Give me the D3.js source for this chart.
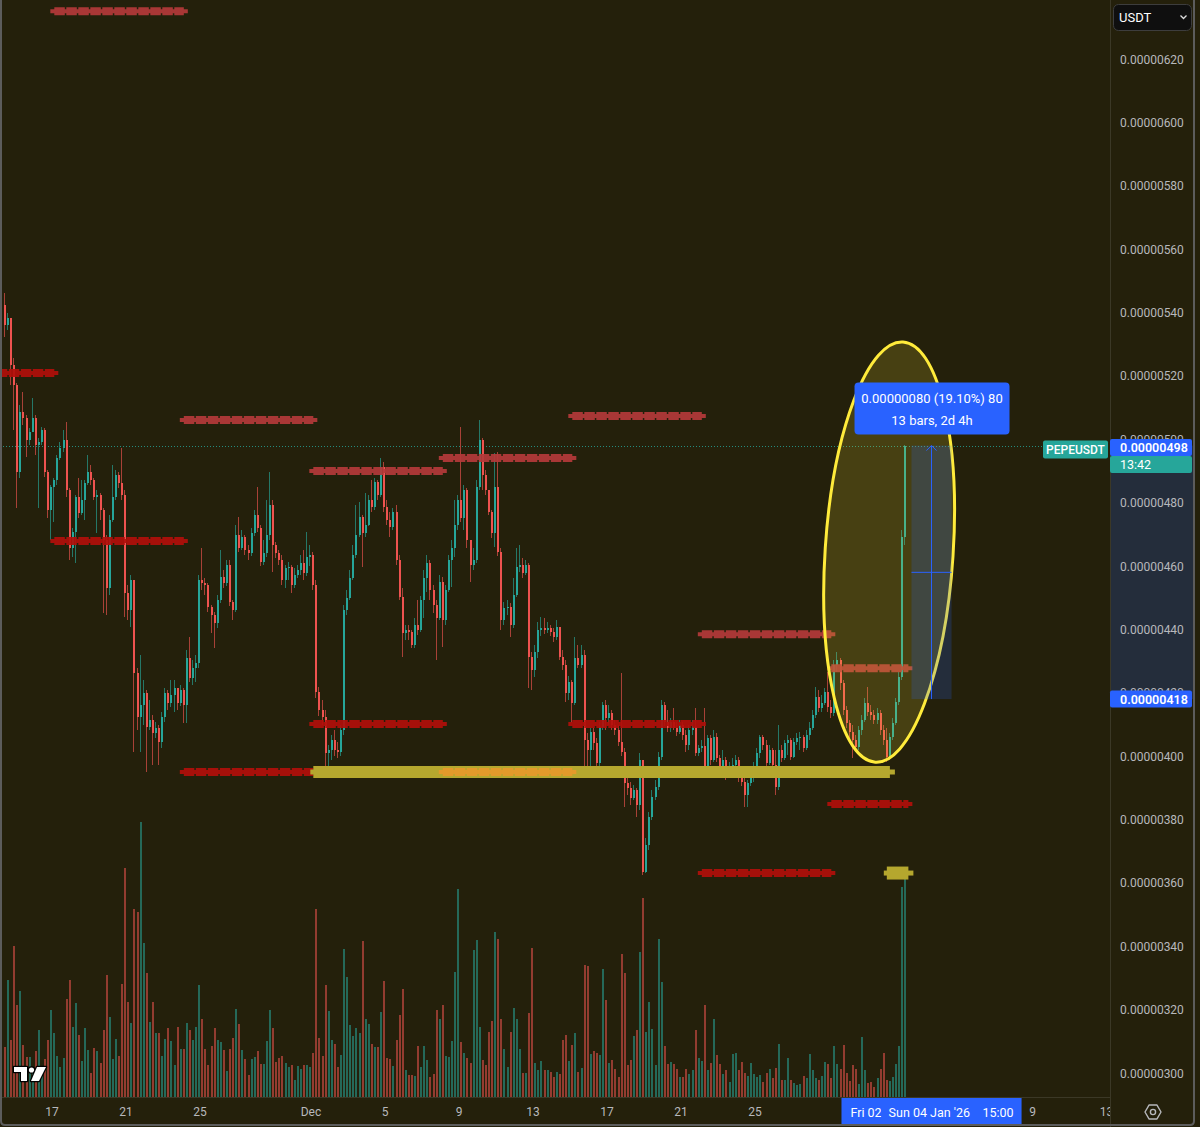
<!DOCTYPE html>
<html><head><meta charset="utf-8">
<script src="https://cdn.jsdelivr.net/npm/d3@7"></script>
<style>
html,body{margin:0;padding:0;background:#24200b;overflow:hidden;}
svg{display:block;font-family:Roboto,"Noto Sans",sans-serif;}
</style></head><body>
<svg id="c" width="1200" height="1127"></svg>
<script>
// ---------------- DATA (prices in units of 1e-8 USDT) ----------------
const symbol = "PEPEUSDT";
const quote = "USDT";
const startTime = "2025-11-14T11:00:00Z"; // first 4h bar
const barHours = 4;
const open0 = 542.3;
const closes = [
536.0,538.2,523.4,517.1,489.6,508.6,506.7,499.7,502.2,506.7,
498.2,499.1,502.9,489.6,477.6,484.9,487.1,494.0,497.2,499.7,
483.9,465.7,470.7,481.7,476.7,480.8,486.1,489.6,487.1,481.7,
482.4,477.6,468.2,453.0,474.5,481.7,488.7,486.1,482.4,451.5,
446.1,455.5,426.2,412.3,416.1,419.9,409.1,411.4,407.3,408.8,
404.4,412.3,419.9,416.7,419.3,421.5,416.7,420.8,416.1,430.9,
424.6,427.8,429.3,455.5,454.6,454.0,447.1,444.5,442.0,449.2,
456.5,454.6,460.3,448.6,446.1,469.7,465.7,469.1,465.0,464.1,
470.4,476.1,471.9,461.3,464.1,469.7,479.2,466.6,464.1,461.9,
455.5,459.4,459.7,454.0,457.1,458.7,460.9,457.7,462.8,463.5,
454.0,420.2,414.5,412.3,401.0,401.9,405.0,401.9,401.3,408.2,
446.1,449.9,456.2,463.5,469.7,475.4,470.4,472.9,480.8,478.6,
486.4,482.4,491.2,478.6,474.5,472.3,477.0,461.9,450.2,438.9,
439.8,439.2,435.1,441.4,439.8,449.2,456.2,460.9,452.4,447.7,
443.6,454.9,443.0,452.4,461.9,465.7,472.9,480.8,475.1,483.9,
468.2,460.3,461.9,484.9,499.7,488.7,483.9,477.0,470.4,484.9,
464.4,443.0,446.8,447.1,441.4,450.8,459.7,460.3,457.7,460.3,
431.2,427.1,432.8,439.8,440.4,439.8,440.4,439.2,437.6,440.8,
431.2,428.7,419.9,423.4,416.7,430.9,428.7,431.9,405.0,401.9,
407.6,404.1,397.8,409.1,416.1,412.0,413.6,409.8,408.2,404.4,
401.3,391.5,389.9,386.8,389.3,384.6,398.8,363.4,371.9,380.8,
387.1,390.3,399.7,416.1,410.7,408.8,410.7,408.8,407.6,409.8,
406.6,403.5,408.2,409.1,401.0,402.5,403.2,396.6,405.7,398.8,
406.0,399.4,396.3,398.8,394.7,396.6,397.2,398.8,393.1,391.8,
387.7,391.5,394.0,396.6,401.0,406.0,403.5,397.8,401.9,397.2,
390.3,401.9,399.4,404.1,405.0,399.7,404.4,405.7,406.0,402.5,
406.6,408.8,412.9,418.6,415.1,416.7,420.2,415.5,413.6,428.7,
430.3,423.0,414.5,410.4,407.6,405.0,402.9,408.2,411.4,416.7,
413.9,412.9,411.4,413.6,408.2,405.0,399.7,406.0,410.4,417.1,
424.9,469.1,498.0];
const highs = [
546.1,539.8,538.2,525.6,517.7,510.8,514.9,507.6,503.5,513.0,
507.6,500.3,503.8,503.5,490.3,485.5,487.7,495.0,499.1,502.9,
505.4,484.6,471.9,482.4,487.7,487.1,487.1,495.0,491.8,487.7,
483.9,483.0,478.3,469.7,476.1,491.8,490.3,489.6,497.2,483.9,
454.0,457.1,455.5,427.8,431.9,424.0,420.8,417.7,412.9,410.7,
409.8,413.9,421.5,420.8,424.0,424.0,421.5,422.4,421.5,433.5,
437.6,430.3,431.9,457.1,465.7,456.2,454.6,447.7,445.5,450.8,
465.0,458.7,461.9,461.9,449.2,472.9,475.4,471.3,469.7,466.6,
471.9,477.6,484.9,472.9,468.2,480.8,489.6,480.8,467.5,465.0,
463.5,460.3,461.3,460.3,459.4,460.3,463.5,465.0,470.7,466.6,
464.4,455.5,421.8,417.7,414.5,403.5,406.6,408.2,404.4,409.8,
447.7,452.4,458.7,466.6,479.2,480.2,476.1,483.0,482.4,487.1,
487.7,487.1,494.0,492.8,480.8,477.0,478.3,479.2,463.5,453.0,
441.4,441.4,439.8,443.6,449.2,450.5,458.7,463.5,461.9,454.0,
449.2,457.1,456.5,454.0,463.5,468.2,480.8,482.4,503.8,485.5,
484.6,468.2,465.7,487.1,506.1,500.3,490.3,483.9,477.6,495.6,
495.9,465.7,448.6,449.2,448.3,456.2,465.7,466.6,462.5,461.9,
461.0,432.8,435.1,442.3,443.9,443.6,442.3,441.4,440.4,443.0,
439.8,433.5,430.3,425.3,424.0,437.6,435.1,435.1,433.5,407.3,
408.8,408.8,405.7,410.7,417.1,417.7,416.1,414.5,411.4,409.8,
426.2,402.5,394.0,391.8,390.8,389.9,401.0,398.8,374.1,382.3,
389.3,392.5,401.3,417.7,417.1,414.5,412.0,415.1,410.7,411.4,
410.7,408.2,409.8,411.4,415.1,403.5,405.0,415.1,406.6,406.6,
408.2,407.3,400.3,401.9,399.7,398.1,399.4,400.3,399.7,395.6,
393.1,392.5,395.6,398.1,402.5,406.6,406.6,405.0,403.5,402.5,
401.9,409.8,403.5,405.0,406.6,405.7,405.7,407.3,407.6,406.6,
408.2,410.7,414.5,421.8,420.8,419.3,421.5,426.5,417.7,430.3,
432.8,430.9,424.0,415.8,411.4,409.8,406.6,409.5,412.9,418.3,
421.8,416.1,414.5,415.1,414.5,409.8,408.8,407.3,412.0,418.3,
426.5,471.3,498.2];
const lows = [
532.2,534.4,517.1,502.9,478.3,487.7,504.5,494.3,498.2,502.2,
495.0,478.3,498.2,488.0,475.1,468.2,473.8,485.5,493.4,495.9,
481.7,461.9,462.8,460.9,475.1,476.1,474.5,485.5,485.5,480.8,
470.4,474.5,445.2,444.5,450.8,473.8,480.8,484.6,480.8,443.9,
443.0,440.8,401.3,408.2,401.3,409.8,395.0,408.2,397.2,405.7,
397.2,402.5,410.7,414.5,415.5,413.9,414.5,415.8,410.4,410.4,
423.4,422.4,423.4,427.8,452.4,450.8,445.5,438.9,434.1,440.4,
448.3,453.0,453.7,447.4,443.0,445.5,464.4,465.0,463.5,461.9,
463.1,469.4,470.7,460.0,460.3,462.8,468.2,458.1,462.5,460.3,
454.0,453.0,455.5,451.5,453.0,456.2,457.1,455.5,456.8,460.0,
452.4,418.3,412.6,409.8,395.6,395.0,398.8,400.0,399.4,400.0,
406.6,444.5,449.2,455.5,462.5,469.1,459.7,469.1,472.6,477.0,
477.6,480.8,481.7,477.0,472.9,469.1,471.3,460.3,449.2,431.2,
436.6,436.6,434.1,434.1,438.2,439.2,443.6,451.8,449.2,445.2,
430.3,443.0,434.4,441.4,451.8,453.4,462.8,471.3,473.8,471.3,
465.7,454.9,458.7,460.9,483.9,483.9,482.4,476.1,468.8,466.0,
463.1,439.8,441.4,444.5,437.6,440.4,450.2,458.1,456.2,457.1,
421.5,420.8,424.9,430.9,437.9,438.6,438.9,437.9,436.0,436.6,
430.3,427.1,417.1,417.7,410.4,416.1,427.8,427.8,393.4,393.4,
396.3,401.9,394.0,396.3,408.2,408.2,409.8,408.2,406.6,403.2,
400.0,383.9,387.7,384.6,386.1,380.8,383.0,362.4,363.0,370.3,
379.8,386.1,389.3,398.8,409.5,407.6,407.6,408.2,406.3,406.9,
405.0,401.3,401.9,406.6,400.0,400.0,401.3,395.6,395.6,397.2,
398.1,398.1,395.0,395.6,392.5,393.7,394.0,395.0,391.8,390.6,
383.9,383.9,390.6,391.8,395.0,399.4,401.9,396.9,397.2,396.3,
387.7,389.3,398.1,398.8,400.3,398.8,399.4,403.5,401.9,401.3,
401.9,405.0,408.2,412.0,413.9,413.9,416.1,413.9,412.0,412.6,
426.5,420.8,412.9,408.8,405.0,399.4,401.3,401.9,406.6,410.7,
412.6,411.4,410.1,410.1,406.6,403.5,398.1,398.8,405.0,409.8,
416.1,424.0,466.6];
// volume, billions of PEPE per 4h bar
const volumes = [
50,117,57,151,92,106,52,40,40,30,
46,67,23,38,57,87,64,41,30,39,
98,117,70,94,62,36,69,47,24,49,
46,34,67,122,80,38,58,41,113,229,
95,74,188,185,275,154,124,75,95,64,
64,41,58,69,56,32,70,48,48,74,
67,57,70,112,78,48,32,51,69,57,
55,47,26,48,59,88,73,47,38,22,
38,40,46,33,33,56,87,69,35,39,
41,34,30,32,17,31,28,32,32,30,
44,188,59,41,112,86,57,53,30,42,
148,120,72,61,69,64,156,78,73,53,
50,50,85,116,39,38,31,57,82,108,
27,22,22,21,51,30,51,37,20,23,
87,78,92,41,40,56,125,208,55,44,
39,34,147,157,70,37,32,65,76,165,
158,78,48,30,65,89,78,48,24,24,
84,149,34,27,36,27,27,25,20,25,
23,57,62,36,52,64,25,29,132,131,
43,46,44,42,128,97,34,37,28,20,
143,124,32,37,61,67,145,199,65,95,
68,32,158,115,51,33,35,33,28,20,
20,28,23,27,67,39,36,92,27,34,
78,42,33,23,27,15,43,44,27,35,
24,21,34,23,20,22,15,24,28,19,
29,53,17,17,39,17,14,12,13,21,
19,43,27,19,17,21,35,33,19,51,
33,28,52,24,16,32,28,13,60,27,
14,15,10,19,28,44,17,16,20,33,
51,210,220];
const priceTicks = [300,320,340,360,380,400,420,440,460,480,500,520,540,560,580,600,620];
const timeTicks = [
 ["2025-11-17","17"],["2025-11-21","21"],["2025-11-25","25"],["2025-12-01","Dec"],
 ["2025-12-05","5"],["2025-12-09","9"],["2025-12-13","13"],["2025-12-17","17"],
 ["2025-12-21","21"],["2025-12-25","25"],["2026-01-09","9"],["2026-01-13","13"]];
// weekly high levels [from, to, price]
const weekHighs = [
 ["2025-11-17T03:00","2025-11-24T03:00",635.1],
 ["2025-11-24T03:00","2025-12-01T03:00",506.1],
 ["2025-12-01T03:00","2025-12-08T03:00",490.0],
 ["2025-12-08T03:00","2025-12-15T03:00",494.1],
 ["2025-12-15T03:00","2025-12-22T03:00",507.3],
 ["2025-12-22T03:00","2025-12-29T03:00",438.5],
 ["2025-12-29T03:00","2026-01-02T07:00",427.7]];
// weekly low levels [from, to, price]
const weekLows = [
 ["2025-11-10T03:00","2025-11-17T03:00",520.9],
 ["2025-11-17T03:00","2025-11-24T03:00",467.9],
 ["2025-11-24T03:00","2025-12-01T03:00",395.0],
 ["2025-12-01T03:00","2025-12-08T03:00",410.1],
 ["2025-12-15T03:00","2025-12-22T03:00",410.1],
 ["2025-12-22T03:00","2025-12-29T03:00",363.1],
 ["2025-12-29T03:00","2026-01-02T07:00",384.9]];
const touchedLow = ["2025-12-08T03:00","2025-12-15T03:00",395.0];
const supportZone = ["2025-12-01T03:00","2026-01-01T07:00",395.0];
const supportBlock = ["2026-01-01T03:00","2026-01-02T07:00",363.1];
// highlight ellipse: top point, bottom point (date, price)
const ellipseTop = ["2026-01-02T00:00",530.7];
const ellipseBottom = ["2025-12-31T12:00",398.1];
// measurement
const measure = {from:"2026-01-02T11:00", to:"2026-01-04T15:00", low:418.0, high:498.0, pct:"19.10%", bars:13, span:"2d 4h"};
const startLabel = ["Fri 02 Jan '26","2026-01-02T11:00"];
const endLabel = ["Sun 04 Jan '26","15:00","2026-01-04T15:00"];
const countdown = "13:42";

// ---------------- CHART ----------------
const W=1200,H=1127, plotR=1110, plotB=1097;
const UP="#26a69a", DN="#ef5350", BG="#24200b", TXT="#b7b8bc", BLUE="#2962ff";
const svg=d3.select("#c");
const dt=s=>new Date(s.length<=10? s+"T00:00:00Z" : s+(s.length===16?":00Z":""));
const X=d3.scaleUtc().domain([dt("2025-11-17"),dt("2026-01-09")]).range([52,1032.5]);
const Y=d3.scaleLinear().domain([300,620]).range([1073,59]);
const V=d3.scaleLinear().domain([0,275]).range([plotB,822]);
const fmt=v=>(v*1e-8).toFixed(8);
const T0=Date.parse(startTime), barMs=barHours*3600e3;
const bars=closes.map((c,i)=>{const o=i===0?open0:closes[i-1];
  return {t:new Date(T0+i*barMs),o,c,h:Math.max(highs[i],o,c),l:Math.min(lows[i],o,c),v:volumes[i],up:c>=o};});

svg.append("rect").attr("width",W).attr("height",H).attr("fill",BG);
svg.append("clipPath").attr("id","pc").append("rect").attr("x",2).attr("y",0).attr("width",plotR-2).attr("height",plotB);
const P=svg.append("g").attr("clip-path","url(#pc)");

// volume
P.append("g").attr("shape-rendering","crispEdges").selectAll("rect").data(bars).join("rect")
 .attr("x",d=>Math.round(X(d.t))-1).attr("width",2)
 .attr("y",d=>V(d.v)).attr("height",d=>V(0)-V(d.v))
 .attr("fill",d=>d.up?UP:DN).attr("opacity",0.55);

// last price dotted line
const last=bars[bars.length-1], yLast=Y(last.c);
P.append("line").attr("x1",0).attr("x2",plotR).attr("y1",Math.round(yLast)+0.5).attr("y2",Math.round(yLast)+0.5)
 .attr("stroke",UP).attr("stroke-dasharray","1,2").attr("opacity",0.8);

// candles
const cg=P.append("g").attr("shape-rendering","crispEdges");
cg.selectAll("rect.w").data(bars).join("rect").attr("class","w")
 .attr("x",d=>Math.round(X(d.t))-1).attr("width",1)
 .attr("y",d=>Y(d.h)).attr("height",d=>Math.max(1,Y(d.l)-Y(d.h)))
 .attr("fill",d=>d.up?UP:DN).attr("opacity",0.65);
cg.selectAll("rect.b").data(bars).join("rect").attr("class","b")
 .attr("x",d=>Math.round(X(d.t))-1).attr("width",2)
 .attr("y",d=>Y(Math.max(d.o,d.c))).attr("height",d=>Math.max(1,Math.abs(Y(d.o)-Y(d.c))))
 .attr("fill",d=>d.up?UP:DN);

// levels
const LG=P.append("g");
function dashLevel(l,color,op){
  const x1=X(dt(l[0])),x2=X(dt(l[1])),y=Y(l[2]);
  const g=LG.append("g").attr("opacity",op);
  g.append("line").attr("x1",x1-4).attr("x2",x2+4).attr("y1",y).attr("y2",y).attr("stroke",color).attr("stroke-width",4);
  g.append("line").attr("x1",x1).attr("x2",x2).attr("y1",y).attr("y2",y).attr("stroke",color).attr("stroke-width",8).attr("stroke-dasharray","10.5,1.5");
}
function band(l,color,thick){
  const x1=X(dt(l[0])),x2=X(dt(l[1])),y=Y(l[2]);
  const g=LG.append("g");
  g.append("line").attr("x1",x1-3).attr("x2",x2+5).attr("y1",y).attr("y2",y).attr("stroke",color).attr("stroke-width",5);
  g.append("line").attr("x1",x1).attr("x2",x2).attr("y1",y).attr("y2",y).attr("stroke",color).attr("stroke-width",thick);
}
weekLows.forEach(l=>dashLevel(l,"#b20f0a",0.92));
weekHighs.forEach(l=>dashLevel(l,"#b53a3a",0.92));
band(supportZone,"#b5a72e",12);
band(supportBlock,"#b5a72e",13);
dashLevel(touchedLow,"#e39a2b",1);

// ellipse
{
 const ax=X(dt(ellipseTop[0])),ay=Y(ellipseTop[1]),bx=X(dt(ellipseBottom[0])),by=Y(ellipseBottom[1]);
 const cx=(ax+bx)/2,cy=(ay+by)/2,ry=Math.hypot(ax-bx,ay-by)/2,ang=Math.atan2(ax-bx,by-ay)*180/Math.PI;
 P.append("ellipse").attr("cx",0).attr("cy",0).attr("rx",64).attr("ry",ry)
  .attr("transform",`translate(${cx},${cy}) rotate(${ang})`)
  .attr("fill","rgba(255,235,59,0.16)").attr("stroke","#ffeb3b").attr("stroke-width",3);
}

// measurement box
const mx1=X(dt(measure.from)),mx2=X(dt(measure.to)),my1=Y(measure.high),my2=Y(measure.low),mcx=(mx1+mx2)/2;
P.append("rect").attr("x",mx1).attr("y",my1).attr("width",mx2-mx1).attr("height",my2-my1).attr("fill","rgba(41,98,255,0.2)");
P.append("line").attr("x1",mx1).attr("x2",mx2).attr("y1",Y((measure.high+measure.low)/2)).attr("y2",Y((measure.high+measure.low)/2)).attr("stroke",BLUE);
P.append("line").attr("x1",mcx).attr("x2",mcx).attr("y1",my2).attr("y2",my1).attr("stroke",BLUE);
P.append("path").attr("d",`M${mcx-5},${my1+5}L${mcx},${my1}L${mcx+5},${my1+5}`).attr("fill","none").attr("stroke",BLUE);
// measurement label
const diff=measure.high-measure.low;
const lbl=svg.append("g");
lbl.append("rect").attr("x",mcx-77).attr("y",my1-63).attr("width",155).attr("height",52).attr("rx",4).attr("fill",BLUE);
lbl.append("text").attr("x",mcx+0.5).attr("y",my1-43).attr("text-anchor","middle").attr("fill","#fff").attr("font-size",13)
 .text(`${fmt(diff)} (${measure.pct}) ${Math.round(diff)}`);
lbl.append("text").attr("x",mcx+0.5).attr("y",my1-21).attr("text-anchor","middle").attr("fill","#fff").attr("font-size",13)
 .text(`${measure.bars} bars, ${measure.span}`);

// symbol label
svg.append("rect").attr("x",1043).attr("y",yLast-5).attr("width",65).attr("height",18).attr("rx",2).attr("fill",UP);
svg.append("text").attr("x",1075.5).attr("y",yLast+8.5).attr("text-anchor","middle").attr("fill","#fff").attr("font-size",12).attr("font-weight",500).text(symbol);

// price axis
svg.append("rect").attr("x",plotR).attr("y",my1).attr("width",85).attr("height",my2-my1).attr("fill","rgba(41,98,255,0.2)");
svg.append("line").attr("x1",plotR+0.5).attr("x2",plotR+0.5).attr("y1",0).attr("y2",H).attr("stroke","#3b3826");
svg.append("g").selectAll("text").data(priceTicks).join("text")
 .attr("x",1120).attr("y",d=>Y(d)+4.5).attr("fill",TXT).attr("font-size",12).text(fmt);
function priceTag(y,txt,fill){
 svg.append("rect").attr("x",plotR).attr("y",y-8.5).attr("width",82).attr("height",17).attr("rx",2).attr("fill",fill);
 svg.append("text").attr("x",1120).attr("y",y+4.5).attr("fill","#fff").attr("font-size",12.5).attr("font-weight",600).text(txt);
}
priceTag(yLast+2,fmt(last.c),BLUE);
svg.append("rect").attr("x",plotR).attr("y",yLast+10.5).attr("width",82).attr("height",17).attr("rx",2).attr("fill",UP);
svg.append("text").attr("x",1120).attr("y",yLast+23.5).attr("fill","#fff").attr("font-size",12.5).text(countdown);
priceTag(my2,fmt(measure.low),BLUE);

// time axis
svg.append("line").attr("x1",0).attr("x2",plotR).attr("y1",plotB+0.5).attr("y2",plotB+0.5).attr("stroke","#3b3826");
svg.append("clipPath").attr("id","tc").append("rect").attr("x",0).attr("y",plotB).attr("width",plotR).attr("height",30);
svg.append("g").attr("clip-path","url(#tc)").selectAll("text").data(timeTicks).join("text")
 .attr("x",d=>X(dt(d[0]))).attr("y",1116).attr("text-anchor","middle").attr("fill",TXT).attr("font-size",12).text(d=>d[1]);
{
 const c1=X(dt(startLabel[1])), c2=X(dt(endLabel[2]));
 svg.append("rect").attr("x",c1-70).attr("y",plotB+1).attr("width",140).attr("height",28).attr("fill",BLUE);
 svg.append("clipPath").attr("id","lc").append("rect").attr("x",c1-70).attr("y",plotB).attr("width",(c2-70)-(c1-70)).attr("height",30);
 svg.append("text").attr("clip-path","url(#lc)").attr("x",c1-61).attr("y",1116.5).attr("fill","#fff").attr("font-size",12.5).text(startLabel[0]);
 svg.append("rect").attr("x",c2-70).attr("y",plotB+1).attr("width",140).attr("height",28).attr("fill",BLUE);
 svg.append("text").attr("x",c2-63).attr("y",1116.5).attr("fill","#fff").attr("font-size",12.5).text(endLabel[0]);
 svg.append("text").attr("x",c2+62).attr("y",1116.5).attr("text-anchor","end").attr("fill","#fff").attr("font-size",12.5).text(endLabel[1]);
}

// settings icon
{
 const cx=1153,cy=1112,r=8;
 const pts=d3.range(6).map(k=>[cx+r*Math.cos(Math.PI/3*k),cy+r*Math.sin(Math.PI/3*k)]);
 svg.append("path").attr("d","M"+pts.join("L")+"Z").attr("fill","none").attr("stroke",TXT).attr("stroke-width",1.4).attr("stroke-linejoin","round");
 svg.append("circle").attr("cx",cx).attr("cy",cy).attr("r",2.6).attr("fill","none").attr("stroke",TXT).attr("stroke-width",1.4);
}

// currency box
svg.append("rect").attr("x",1113.5).attr("y",4.5).attr("width",78).attr("height",26).attr("rx",5).attr("fill","#0f0f0f").attr("stroke","#3d3d3d");
svg.append("text").attr("x",1119).attr("y",22).attr("fill","#fff").attr("font-size",13).text(quote);
svg.append("path").attr("d","M1180.5,15.5l3,3l3,-3").attr("fill","none").attr("stroke","#ddd").attr("stroke-width",1.3);

// logo
{
 const g=svg.append("g").attr("fill","#fff").attr("stroke","#000").attr("stroke-width",2.5).attr("paint-order","stroke").attr("stroke-linejoin","round");
 g.append("path").attr("d","M14,1067H27V1081H21V1072H14Z");
 g.append("circle").attr("cx",31.5).attr("cy",1070).attr("r",2.6);
 g.append("path").attr("d","M37,1067H46L39,1081H31Z");
}

// frame
svg.append("path").attr("d","M1,0V1121Q1,1125,5,1125H1190Q1194,1125,1194,1121V0").attr("fill","none").attr("stroke","#5c5c5c").attr("stroke-width",2);
</script>
</body></html>
